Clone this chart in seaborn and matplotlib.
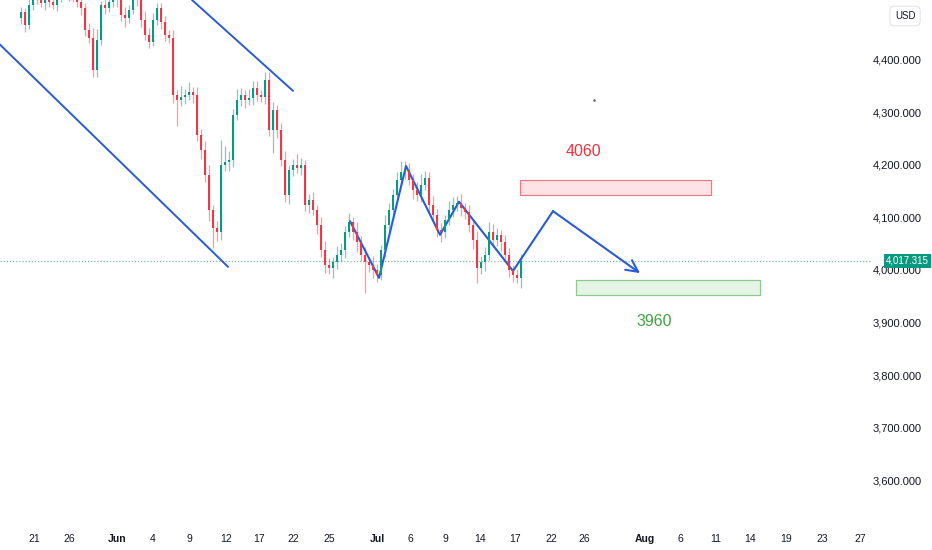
import matplotlib
matplotlib.use("Agg")
import matplotlib.pyplot as plt
import matplotlib.transforms as mtransforms
from matplotlib.patches import Rectangle
import seaborn as sns
import pandas as pd

# ---- data ----
first_open = 4480
closes = [4491, 4467, 4505, 4524, 4518, 4509, 4530, 4510, 4505, 4520,
          4524, 4533, 4524, 4520, 4510, 4499, 4457, 4442, 4381, 4438,
          4505, 4499, 4510, 4524, 4514, 4486, 4480, 4495, 4520, 4514,
          4476, 4448, 4434, 4476, 4499, 4472, 4448, 4442, 4333, 4324,
          4330, 4333, 4339, 4333, 4257, 4229, 4181, 4114, 4080, 4072,
          4200, 4206, 4210, 4295, 4324, 4333, 4324, 4328, 4347, 4333,
          4330, 4362, 4267, 4305, 4267, 4210, 4143, 4190, 4200, 4194,
          4200, 4124, 4133, 4114, 4086, 4038, 4010, 4004, 4015, 4029,
          4038, 4072, 4091, 4072, 4053, 4029, 4015, 4010, 4000, 3990,
          4038, 4086, 4114, 4143, 4171, 4187, 4190, 4171, 4152, 4143,
          4162, 4175, 4124, 4105, 4076, 4072, 4095, 4114, 4124, 4128,
          4118, 4110, 4086, 4057, 4004, 4015, 4029, 4072, 4057, 4067,
          4053, 4029, 4000, 3990, 3985, 4017]
wick_up = [10, 8, 15, 12, 6, 10, 8, 14, 9, 7,
           12, 10, 6, 8, 12, 9, 10, 14, 18, 20,
           8, 10, 6, 9, 12, 10, 14, 9, 6, 8,
           10, 18, 12, 14, 9, 10, 12, 8, 14, 10,
           20, 12, 18, 10, 15, 12, 16, 18, 10, 14,
           48, 30, 16, 12, 20, 14, 10, 16, 12, 12,
           10, 14, 15, 14, 10, 12, 16, 10, 12, 20,
           14, 10, 12, 16, 10, 14, 18, 12, 10, 16,
           14, 12, 18, 10, 20, 12, 14, 10, 16, 12,
           10, 18, 14, 12, 16, 20, 18, 14, 12, 16,
           20, 14, 12, 16, 12, 14, 10, 18, 14, 12,
           16, 10, 14, 12, 18, 12, 14, 20, 16, 12,
           10, 14, 12, 10, 12, 14]
wick_dn = [12, 14, 8, 10, 12, 9, 14, 10, 8, 12,
           10, 8, 12, 9, 10, 14, 12, 10, 13, 14,
           10, 12, 8, 10, 14, 12, 18, 10, 8, 12,
           14, 10, 12, 8, 10, 14, 12, 10, 16, 50,
           12, 14, 10, 16, 12, 18, 14, 20, 38, 16,
           14, 12, 18, 14, 10, 12, 16, 10, 14, 12,
           10, 14, 12, 45, 16, 12, 14, 18, 12, 10,
           14, 12, 16, 10, 18, 14, 16, 12, 20, 14,
           12, 16, 10, 14, 18, 12, 59, 14, 16, 12,
           10, 14, 12, 16, 10, 12, 14, 10, 16, 12,
           14, 10, 16, 12, 14, 18, 12, 10, 14, 12,
           16, 12, 14, 18, 28, 12, 16, 10, 14, 12,
           16, 12, 14, 12, 9, 20]

date_labels = ["21", "26", "Jun", "4", "9", "12", "17", "22", "25", "Jul", "6", "9",
               "14", "17", "22", "26", "Aug", "6", "11", "14", "19", "23", "27"]
date_pos = [3.25, 12, 24, 33, 42, 51.25, 59.5, 68, 77, 89, 97.25, 106, 114.75,
            123.5, 132.5, 140.75, 156, 164.75, 173.75, 182.25, 191.25, 200.25, 209.75]
price_ticks = [3600, 3700, 3800, 3900, 4000, 4100, 4200, 4300, 4400]
last_price = 4017.315

# drawings (bar index, price)
channel_low_x, channel_low_y = [-5.25, 51.75], [4429, 4006]
channel_up_x, channel_up_y = [42.75, 68], [4514, 4341]
zig_x = [82.25, 89.5, 96.25, 104.75, 109.5, 123, 133]
zig_y = [4093, 3985, 4198, 4067, 4130, 3998, 4112]
arrow_end = (154.75, 3994)
resist_box = (124.75, 172.5, 4143, 4171)
support_box = (138.75, 184.75, 3952, 3981)

opens = [first_open] + closes[:-1]
df = pd.DataFrame({"i": range(len(closes)), "open": opens, "close": closes,
                   "up": wick_up, "dn": wick_dn})
df["top"] = df[["open", "close"]].max(axis=1)
df["bot"] = df[["open", "close"]].min(axis=1)
df["high"] = df["top"] + df["up"]
df["low"] = df["bot"] - df["dn"]
df["col"] = ["#089981" if c >= o else "#f23645" for o, c in zip(df["open"], df["close"])]

sns.set_theme(style="white")
plt.rcParams['font.family'] = ['Liberation Sans', 'DejaVu Sans']

fig = plt.figure(figsize=(9.32, 5.5), dpi=100)
ax = fig.add_axes([0, 1 - 520 / 550, 871 / 932, 520 / 550])

blue = "#2a5bd7"

# candles
ax.vlines(df["i"], df["low"], df["high"], colors=df["col"], linewidth=0.9, alpha=0.5, zorder=2)
ax.bar(df["i"], (df["top"] - df["bot"]).clip(lower=1.5), bottom=df["bot"], width=0.72,
       color=df["col"], linewidth=0, zorder=3)

# last price line
ax.axhline(last_price, color="#7fb8b0", linestyle=(0, (1, 1.5)), linewidth=0.9, zorder=1)

# trend lines
sns.lineplot(x=channel_low_x, y=channel_low_y, color=blue, linewidth=1.4, ax=ax, sort=False, estimator=None)
sns.lineplot(x=channel_up_x, y=channel_up_y, color=blue, linewidth=1.4, ax=ax, sort=False, estimator=None)
sns.lineplot(x=zig_x, y=zig_y, color=blue, linewidth=1.5, ax=ax, sort=False, estimator=None)
ax.annotate("", xy=arrow_end, xytext=(zig_x[-1], zig_y[-1]),
            arrowprops=dict(arrowstyle="->,head_length=0.7,head_width=0.35",
                            color=blue, lw=1.5, shrinkA=0, shrinkB=0))

# zones
x0, x1, y0, y1 = resist_box
ax.add_patch(Rectangle((x0, y0), x1 - x0, y1 - y0, facecolor="#fde3e5",
                       edgecolor="#f07a84", linewidth=0.9, zorder=2))
x0, x1, y0, y1 = support_box
ax.add_patch(Rectangle((x0, y0), x1 - x0, y1 - y0, facecolor="#e6f4e6",
                       edgecolor="#8cc98e", linewidth=0.9, zorder=2))
ax.text(140.5, 4225, "4060", color="#e8343f", fontsize=11.5, ha="center", va="center")
ax.text(158.25, 3901, "3960", color="#43a047", fontsize=11.5, ha="center", va="center")
ax.plot([143.25], [4324], marker=".", markersize=1.5, color="#555555")

ax.set_xlim(-5.25, 212.5)
ax.set_ylim(3524, 4514)

# axes / ticks
ax.yaxis.tick_right()
ax.set_yticks(price_ticks)
ax.set_yticklabels([f"{v:,.3f}" for v in price_ticks])
ax.tick_params(axis="y", length=0, pad=36.5, labelsize=8, labelcolor="#131722")
for lab in ax.get_yticklabels():
    lab.set_ha("right")
ax.set_xticks(date_pos)
ax.set_xticklabels(date_labels)
ax.tick_params(axis="x", length=0, pad=10, labelsize=7.5, labelcolor="#131722")
for lab in ax.get_xticklabels():
    if lab.get_text() in ("Jun", "Jul", "Aug"):
        lab.set_fontweight("bold")
ax.set_xlabel("")
ax.set_ylabel("")
sns.despine(ax=ax, left=True, bottom=True, right=True, top=True)

trans = mtransforms.blended_transform_factory(ax.transAxes, ax.transData)
ax.text(1.017, last_price, f"{last_price:,.3f}", transform=trans, color="white",
        fontsize=7, ha="left", va="center", clip_on=False, zorder=10,
        bbox=dict(boxstyle="square,pad=0.2", facecolor="#089981", edgecolor="none"))
fig.text(905 / 932, 1 - 16 / 550, "USD", fontsize=7, ha="center", va="center", color="#131722",
         bbox=dict(boxstyle="round,pad=0.5", facecolor="white", edgecolor="#e0e3eb", linewidth=0.8))

fig.savefig("out.png", dpi=100)
